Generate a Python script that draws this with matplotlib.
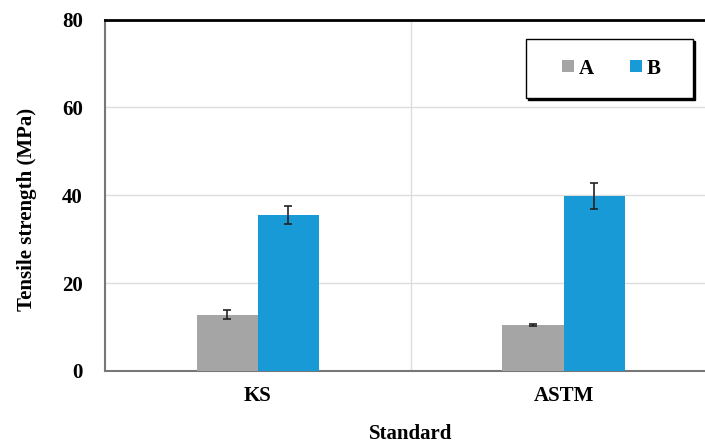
import matplotlib
matplotlib.use("Agg")
import matplotlib.pyplot as plt
from matplotlib.patches import Rectangle
import numpy as np

categories = ["KS", "ASTM"]
series_names = ["A", "B"]
values_A = [12.8, 10.5]
values_B = [35.5, 39.8]
err_A = [1.0, 0.3]
err_B = [2.1, 2.9]
yticks = [0, 20, 40, 60, 80]

plt.rcParams['font.family'] = ['Liberation Serif', 'DejaVu Serif']
plt.rcParams['font.weight'] = 'bold'

fig = plt.figure(figsize=(7.05, 4.43), dpi=100)
W, H = 705, 443
left, right, top, bottom = 105, 716.5, 19.5, 371
ax = fig.add_axes([left / W, 1 - bottom / H, (right - left) / W, (bottom - top) / H])

x = np.arange(len(categories))
bw = 0.2
colA = '#A5A5A5'
colB = '#189AD6'
ax.bar(x - bw / 2, values_A, bw, color=colA, label=series_names[0], zorder=3)
ax.bar(x + bw / 2, values_B, bw, color=colB, label=series_names[1], zorder=3)
ax.errorbar(x - bw / 2, values_A, yerr=err_A, fmt='none', ecolor='#222222', elinewidth=1.2, capsize=3, capthick=1.2, zorder=4)
ax.errorbar(x + bw / 2, values_B, yerr=err_B, fmt='none', ecolor='#222222', elinewidth=1.2, capsize=3, capthick=1.2, zorder=4)

ax.set_xlim(-0.5, 1.5)
ax.set_ylim(0, 80)
ax.set_yticks(yticks)
ax.set_yticklabels([str(v) for v in yticks], fontsize=15, fontweight='bold')
ax.set_xticks(x)
ax.set_xticklabels(categories, fontsize=15, fontweight='bold')
ax.tick_params(axis='both', length=0)
ax.tick_params(axis='y', pad=16)
ax.tick_params(axis='x', pad=11)

ax.grid(axis='y', color='#DDDDDD', linewidth=1, zorder=0)
ax.axvline(0.5, color='#DDDDDD', linewidth=1, zorder=0)

for s in ['left', 'bottom']:
    ax.spines[s].set_color('#777777')
    ax.spines[s].set_linewidth(1.5)
ax.spines['top'].set_color('black')
ax.spines['top'].set_linewidth(2)
ax.spines['right'].set_visible(False)

ax.set_ylabel('Tensile strength (MPa)', fontsize=15, fontweight='bold')
ax.yaxis.set_label_coords((37 - left) / (right - left), (bottom - 209.5) / (bottom - top))
ax.set_xlabel('Standard', fontsize=15, fontweight='bold', labelpad=13)

# legend frame with hard black shadow
lx0, lx1, ly0, ly1 = 526, 693, 39, 98
fig.patches.append(Rectangle((((lx0 + 2) / W), 1 - (ly1 + 2) / H), (lx1 - lx0) / W, (ly1 - ly0) / H,
                             transform=fig.transFigure, facecolor='black', edgecolor='black', zorder=5))
fig.patches.append(Rectangle((lx0 / W, 1 - ly1 / H), (lx1 - lx0) / W, (ly1 - ly0) / H,
                             transform=fig.transFigure, facecolor='white', edgecolor='black', linewidth=1, zorder=6))

leg = fig.legend(*ax.get_legend_handles_labels(), loc='center',
                 bbox_to_anchor=((lx0 + lx1) / 2 / W + 0.003, 1 - (ly0 + ly1) / 2 / H),
                 ncol=2, frameon=False,
                 handlelength=0.55, handleheight=0.55,
                 handletextpad=0.25, columnspacing=1.75, borderpad=0,
                 prop={'family': 'Liberation Serif', 'weight': 'bold', 'size': 15})
leg.set_zorder(7)

fig.savefig('out.png', dpi=100)
